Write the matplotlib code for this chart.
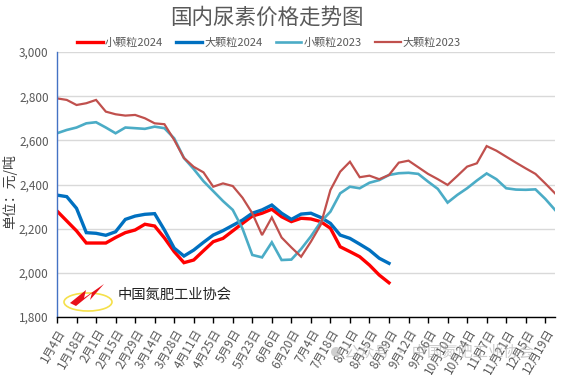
import matplotlib
matplotlib.use("Agg")
import matplotlib.pyplot as plt
from matplotlib.patches import Ellipse, Polygon, Circle

plt.rcParams['font.family'] = ['Noto Sans CJK SC', 'DejaVu Sans']

# category labels (weekly, labelled every 2 weeks)
tick_labels = ["1月4日", "1月18日", "2月1日", "2月15日", "2月29日", "3月14日", "3月28日",
               "4月11日", "4月25日", "5月9日", "5月23日", "6月6日", "6月20日", "7月4日",
               "7月18日", "8月1日", "8月15日", "8月29日", "9月12日", "9月26日", "10月10日",
               "10月24日", "11月7日", "11月21日", "12月5日", "12月19日"]

small_2024 = [2280, 2235, 2190, 2135, 2135, 2135, 2160, 2182, 2194, 2220, 2212, 2158,
              2096, 2046, 2058, 2100, 2141, 2156, 2190, 2224, 2257, 2270, 2288, 2254,
              2232, 2247, 2244, 2232, 2202, 2118, 2096, 2073, 2035, 1990, 1955]
big_2024 = [2352, 2345, 2292, 2182, 2179, 2170, 2186, 2242, 2257, 2265, 2268, 2194,
            2112, 2076, 2103, 2138, 2171, 2191, 2215, 2239, 2270, 2285, 2307, 2270,
            2242, 2266, 2270, 2251, 2224, 2171, 2156, 2130, 2103, 2066, 2043]
small_2023 = [2632, 2647, 2658, 2677, 2682, 2658, 2632, 2658, 2655, 2652, 2662, 2655,
              2609, 2520, 2470, 2415, 2370, 2325, 2285, 2200, 2081, 2070, 2138, 2058,
              2060, 2108, 2165, 2230, 2277, 2360, 2390, 2383, 2408, 2420, 2443, 2451,
              2453, 2448, 2413, 2380, 2318, 2353, 2383, 2418, 2450, 2424, 2383, 2377,
              2376, 2378, 2335, 2285]
big_2023 = [2790, 2783, 2760, 2768, 2783, 2730, 2718, 2712, 2715, 2700, 2677, 2673,
            2602, 2520, 2480, 2455, 2390, 2405, 2393, 2340, 2270, 2171, 2251, 2160,
            2115, 2073, 2141, 2217, 2375, 2458, 2503, 2433, 2440, 2424, 2443, 2499,
            2508, 2478, 2448, 2424, 2398, 2439, 2481, 2496, 2574, 2553, 2526, 2499,
            2473, 2448, 2405, 2360]
series_names = ["小颗粒2024", "大颗粒2024", "小颗粒2023", "大颗粒2023"]

fig = plt.figure(figsize=(5.61, 3.75), dpi=100)
ax = fig.add_axes([57/561, 1-317/375, (555-57)/561, (317-52)/375])

styles = [("#FF0000", 2.4), ("#0070C0", 2.4), ("#4BACC6", 1.9), ("#C0504D", 1.6)]
for data, name, (c, lw) in zip([small_2024, big_2024, small_2023, big_2023], series_names, styles):
    ax.plot(range(len(data)), data, color=c, lw=lw, label=name, solid_joinstyle='miter')

ax.set_xlim(0, 51)
ax.set_ylim(1800, 3000)
ax.set_yticks(range(1800, 3001, 200))
ax.set_yticklabels([f"{v:,}" for v in range(1800, 3001, 200)], fontsize=8.5, color="#595959")
ax.yaxis.grid(True, color="#D9D9D9", lw=1)
ax.set_axisbelow(True)
ax.tick_params(axis='y', length=0, pad=6)

ax.set_xticks(range(0, 52, 2))
ax.set_xticklabels(tick_labels, rotation=60, ha='right', va='top', rotation_mode='anchor',
                   fontsize=8.5, color="#595959")
ax.tick_params(axis='x', length=4, width=1, color="#000000", pad=3)

for s in ['top', 'right']:
    ax.spines[s].set_visible(False)
ax.spines['left'].set_color("#4472C4")
ax.spines['left'].set_linewidth(1)
ax.spines['bottom'].set_color("#000000")
ax.spines['bottom'].set_linewidth(1)

fig.text(10/561, 1-192/375, "单位：元/吨", rotation=90, ha='center', va='center',
         fontsize=10, color="#404040")

fig.text(0.475, 1-18/375, "国内尿素价格走势图", ha='center', va='center', fontsize=15.5,
         color="#595959")
leg = fig.legend(loc='center', bbox_to_anchor=(269/561, 1-43/375), ncol=4, frameon=False,
                 fontsize=8, handlelength=2.3, columnspacing=1.2, handletextpad=0.2)
for t in leg.get_texts():
    t.set_color("#595959")

# association logo and name
ax2 = fig.add_axes([0, 0, 1, 1], facecolor='none')
ax2.set_xlim(0, 561)
ax2.set_ylim(375, 0)
ax2.axis('off')
ax2.add_patch(Ellipse((88, 302), 48, 18, fill=False, ec="#F5E04A", lw=1.2))
ax2.add_patch(Polygon([[70, 303], [86, 290], [84, 298], [104, 284], [90, 300], [92, 293],
                       [76, 306]], closed=True, fc="#E8101A", ec="none"))
ax2.text(118, 295, "中国氮肥工业协会", fontsize=10.3, color="#222222", va='center', ha='left')

# faint watermark
ax2.add_patch(Circle((336, 352), 5, fc="#BBBBBB", ec='none', alpha=0.7))
ax2.text(344, 352, "公众号 · 中国氮肥工业协会", fontsize=11, color="#AAAAAA", alpha=0.6,
         va='center', ha='left')

fig.savefig("out.png", dpi=100)
